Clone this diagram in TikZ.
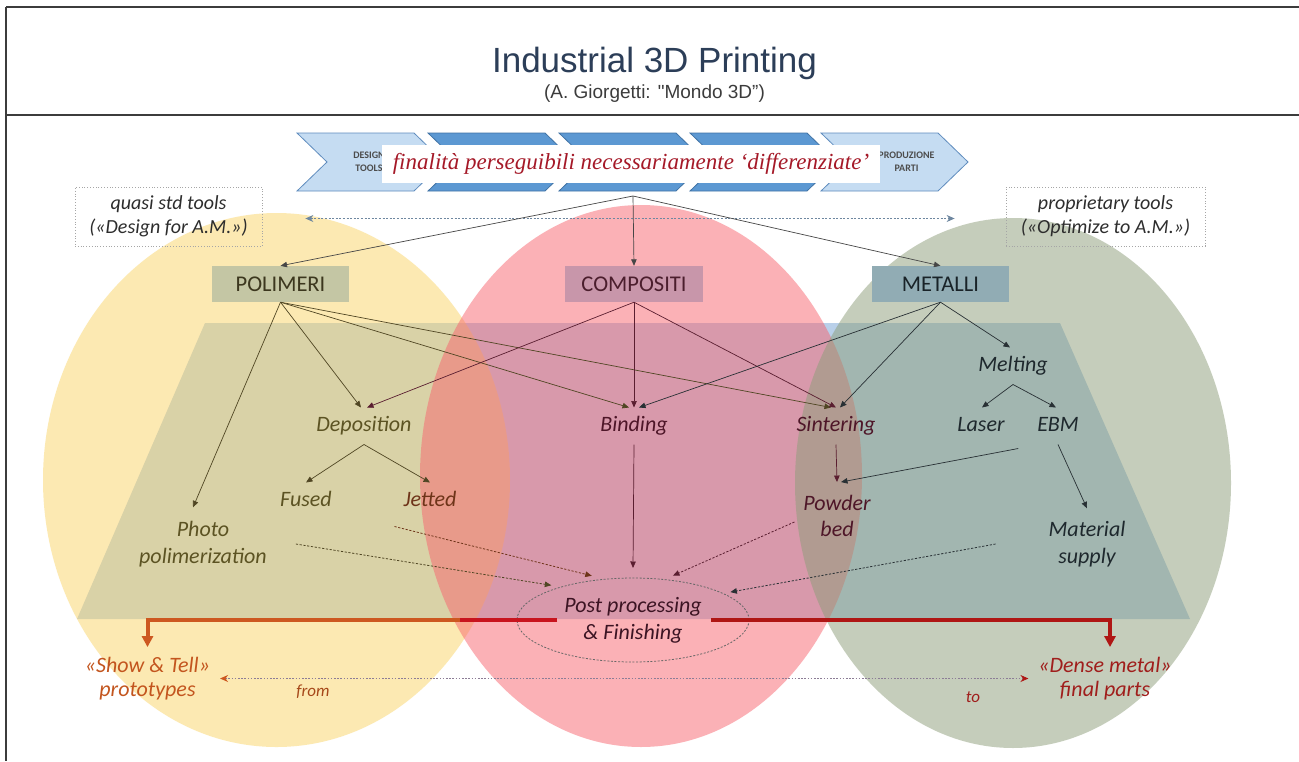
\documentclass[tikz,border=0pt]{standalone}
\usepackage{fontspec}
\newfontfamily\carl{Carlito}
\newfontfamily\arialf{Liberation Sans}
\newfontfamily\tnrf{Liberation Serif}
\usetikzlibrary{arrows.meta,shapes.geometric}
\definecolor{framec}{RGB}{60,60,60}
\definecolor{titlec}{RGB}{44,62,88}
\definecolor{subc}{RGB}{60,60,60}
\definecolor{chevL}{RGB}{197,220,242}
\definecolor{chevLd}{RGB}{95,140,190}
\definecolor{chevD}{RGB}{92,152,210}
\definecolor{chevDd}{RGB}{65,115,165}
\definecolor{finc}{RGB}{165,25,40}
\definecolor{trapc}{RGB}{185,208,234}
\definecolor{yelc}{RGB}{250,212,102}
\definecolor{redc}{RGB}{248,100,110}
\definecolor{grnc}{RGB}{140,157,120}
\definecolor{polbox}{RGB}{196,198,164}
\definecolor{combox}{RGB}{200,150,170}
\definecolor{metbox}{RGB}{145,172,180}
\definecolor{poltxt}{RGB}{60,55,30}
\definecolor{comtxt}{RGB}{75,30,45}
\definecolor{mettxt}{RGB}{25,35,40}
\definecolor{polc}{RGB}{80,70,35}
\definecolor{comc}{RGB}{90,30,48}
\definecolor{metc}{RGB}{40,48,52}
\definecolor{oltxt}{RGB}{92,83,35}
\definecolor{jettxt}{RGB}{110,52,25}
\definecolor{martxt}{RGB}{78,22,40}
\definecolor{slatetxt}{RGB}{30,40,45}
\definecolor{posttxt}{RGB}{60,20,35}
\definecolor{showc}{RGB}{195,85,30}
\definecolor{densec}{RGB}{160,30,28}
\definecolor{oranc}{RGB}{205,88,32}
\definecolor{crim}{RGB}{200,20,30}
\definecolor{dred}{RGB}{175,22,20}
\definecolor{toolc}{RGB}{45,45,45}
\definecolor{dotc}{RGB}{110,135,160}
\definecolor{botdot}{RGB}{140,125,150}
\definecolor{hubc}{RGB}{70,70,70}
\tikzset{
  chevlight/.style={fill=chevL, draw=chevLd, line width=0.8pt},
  chevdark/.style={fill=chevD, draw=chevDd, line width=0.8pt},
  catbox/.style={minimum width=137pt, minimum height=36pt, inner sep=0pt, font=\carl\fontsize{22.5}{24}\selectfont},
  lbl/.style={font=\carl\itshape\fontsize{22}{26}\selectfont, inner sep=0pt, outer sep=9pt, text height=15pt, text depth=4pt},
  lbltwo/.style={font=\carl\itshape\fontsize{22}{26.5}\selectfont, inner sep=0pt, outer sep=9pt, align=center},
  endlbl/.style={font=\carl\itshape\fontsize{22}{24}\selectfont, inner sep=0pt, outer sep=10pt, align=center},
  toolbox/.style={draw=gray!70, dotted, line width=0.8pt, minimum height=59pt, inner sep=0pt, align=center, text=toolc, font=\carl\itshape\fontsize{20}{24}\selectfont},
  arr/.style={-{Triangle[length=6.5pt,width=5.5pt]}, line width=0.7pt},
  dotarr/.style={arr, dash pattern=on 2.2pt off 1.6pt, line width=0.8pt},
  thickln/.style={line width=4pt, -{Triangle[length=11pt,width=11pt]}},
  thickseg/.style={line width=4pt},
  chevtxt/.style={font=\carl\bfseries\fontsize{10}{13}\selectfont, text=black!70, align=center, inner sep=0pt},
  smalllbl/.style={font=\carl\itshape\fontsize{17}{19}\selectfont, inner sep=0pt}
}
\begin{document}
\begin{tikzpicture}[x=1pt,y=-1pt]
\useasboundingbox (0,0) rectangle (1299,761);
\fill[white] (0,0) rectangle (1299,761);
% frame
\draw[framec, line width=2.2pt] (6,7) -- (1299,7);
\draw[framec, line width=1.6pt] (6,7) -- (6,761);
\draw[framec, line width=1.6pt] (6,115) -- (1299,115);
% title
\node[font=\arialf\fontsize{35}{40}\selectfont, text=titlec, inner sep=0pt] (title) at (654.5,63) {Industrial 3D Printing};
\node[font=\arialf\fontsize{19}{22}\selectfont, text=subc, inner sep=0pt] (subtitle) at (654.5,94) {(A. Giorgetti: "Mondo 3D”)};
% background regions
\fill[trapc] (205,323) -- (1060,323) -- (1190,619) -- (77,619) -- cycle;
\fill[yelc, fill opacity=0.5] (276.5,480) ellipse [x radius=233.5pt, y radius=267pt];
\fill[redc, fill opacity=0.5] (641,476) ellipse [x radius=221pt, y radius=271pt];
\fill[grnc, fill opacity=0.5] (1013,483) ellipse [x radius=218pt, y radius=265pt];
% banner
\foreach \L/\s in {297/chevlight,428/chevdark,559/chevdark,690/chevdark,821/chevlight}{
  \draw[\s] (\L,133) -- (\L+117,133) -- (\L+147,162) -- (\L+117,191) -- (\L,191) -- (\L+30,162) -- cycle;
}
\node[chevtxt] (design) at (369,161.5) {DESIGN\\TOOLS};
\node[chevtxt] (produz) at (906.5,161.5) {PRODUZIONE\\PARTI};
\node[fill=white, minimum width=498pt, minimum height=38pt, inner sep=0pt, text=finc, font=\tnrf\itshape\fontsize{23}{26}\selectfont] (fin) at (631,164) {finalità perseguibili necessariamente ‘differenziate’};
\coordinate (hub) at (633,196);
% tool boxes
\node[toolbox, minimum width=187pt] (ltool) at (168.5,216.5) {quasi std tools\\(«Design for A.M.»)};
\node[toolbox, minimum width=199pt] (rtool) at (1105.5,216.5) {proprietary tools\\(«Optimize to A.M.»)};
\draw[dotc, line width=0.8pt, dash pattern=on 2pt off 1.6pt, {Stealth[length=8pt,width=7pt]}-{Stealth[length=8pt,width=7pt]}, shorten <=43pt, shorten >=51pt] ([yshift=-2pt]ltool.east) -- ([yshift=-2pt]rtool.west);
% category boxes
\node[catbox, fill=polbox, text=poltxt] (pol) at (280.5,284) {POLIMERI};
\node[catbox, fill=combox, text=comtxt, minimum width=138pt] (com) at (634,284) {COMPOSITI};
\node[catbox, fill=metbox, text=mettxt] (met) at (940.5,284) {METALLI};
% labels
\node[lbl, text=oltxt] (dep) at (364,426) {Deposition};
\node[lbl, text=oltxt] (fused) at (306,501) {Fused};
\node[lbl, text=jettxt] (jet) at (430,501) {Jetted};
\node[lbltwo, text=oltxt] (photo) at (203,544) {Photo\\polimerization};
\node[lbl, text=martxt] (bind) at (634,426) {Binding};
\node[lbl, text=martxt] (sint) at (836,426) {Sintering};
\node[lbltwo, text=martxt] (pow) at (837,516) {Powder\\bed};
\node[lbl, text=slatetxt] (melt) at (1013,366) {Melting};
\node[lbl, text=slatetxt] (laser) at (981,426) {Laser};
\node[lbl, text=slatetxt] (ebm) at (1058,426) {EBM};
\node[lbltwo, text=slatetxt] (mat) at (1087,544) {Material\\supply};
\node[draw=black!60, dash pattern=on 2pt off 1.6pt, line width=0.8pt, ellipse, minimum width=232pt, minimum height=84pt, inner sep=0pt, outer sep=5pt, align=center, text=posttxt, font=\carl\itshape\fontsize{22}{27}\selectfont] (post) at (633,620) {Post processing\\\& Finishing};
\node[endlbl, text=showc] (show) at (147.5,678.5) {«Show \& Tell»\\prototypes};
\node[endlbl, text=densec] (dense) at (1105,678.5) {«Dense metal»\\final parts};
\node[smalllbl, text=showc!85!black] (from) at (313,692) {from};
\node[smalllbl, text=densec] (to) at (973,697) {to};
% banner arrows
\draw[arr, hubc] (hub) -- (pol.north);
\draw[arr, hubc] (hub) -- (com.north);
\draw[arr, hubc] (hub) -- (met.north);
% polimeri arrows
\draw[arr, polc] (pol.south) -- ([xshift=-10pt,yshift=5pt]photo.north);
\draw[arr, polc] (pol.south) -- ([xshift=-3pt]dep.north);
\draw[arr, polc] (pol.south) -- ([xshift=-5pt]bind.north);
\draw[arr, polc] (pol.south) -- ([xshift=-5pt]sint.north);
% compositi arrows
\draw[arr, comc] (com.south) -- ([xshift=3pt]dep.north);
\draw[arr, comc] (com.south) -- (bind.north);
\draw[arr, comc] (com.south) -- (sint.north);
% metalli arrows
\draw[arr, metc] (met.south) -- ([xshift=5pt]bind.north);
\draw[arr, metc] (met.south) -- ([xshift=4pt]sint.north);
\draw[arr, metc] (met.south) -- ([xshift=-3pt]melt.north);
\draw[arr, metc] (melt.south) -- ([xshift=1pt]laser.north);
\draw[arr, metc] (melt.south) -- ([xshift=-2pt]ebm.north);
% lower arrows
\draw[arr, polc] (dep.south) -- (fused.north);
\draw[arr, polc] (dep.south) -- (jet.north);
\draw[arr, comc] (sint.south) -- ([yshift=4pt]pow.north);
\draw[arr, metc] ([xshift=-10pt,yshift=-4pt]ebm.south west) -- ([xshift=4pt,yshift=4pt]pow.north);
\draw[arr, metc] (ebm.south) -- ([yshift=4pt]mat.north);
\draw[arr, comc] (bind.south) -- ([yshift=5pt]post.north);
% dotted arrows to post processing
\draw[dotarr, polc] ([xshift=20pt]photo.east) -- (post.157);
\draw[dotarr, jettxt] ([yshift=-7pt]jet.south west) -- (post.133);
\draw[dotarr, comc] ([yshift=-6pt]pow.west) -- (post.48);
\draw[dotarr, metc] ([xshift=-44pt]mat.west) -- (post.16);
% thick red lines
\draw[thickln, draw=oranc] ([xshift=45pt]post.west) -| (show.north);
\draw[thickseg, draw=crim] ([xshift=45pt]post.west) -- ([xshift=-52pt]post.west);
\draw[thickln, draw=dred] ([xshift=-43pt]post.east) -| ([xshift=5pt]dense.north);
% from / to arrow
\draw[botdot, line width=0.9pt, dash pattern=on 1.6pt off 1.6pt, {Stealth[length=8pt,width=7pt,color=oranc]}-{Stealth[length=8pt,width=7pt,color=dred]}] (show.east) -- (dense.west);
\end{tikzpicture}
\end{document}
